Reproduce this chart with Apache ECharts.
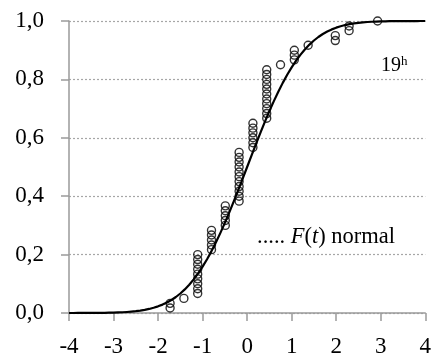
<!DOCTYPE html>
<html>
<head>
<meta charset="utf-8">
<script src="https://cdn.jsdelivr.net/npm/echarts@6/dist/echarts.min.js"></script>
<style>
  html, body { margin: 0; padding: 0; background: #fff; }
  #chart { width: 434px; height: 363px; }
</style>
</head>
<body>
<div id="chart"></div>
<script>
// Axis ticks
const xTicks = [-4, -3, -2, -1, 0, 1, 2, 3, 4];
const yTicks = [0, 0.2, 0.4, 0.6, 0.8, 1.0];

// Observed (standardized) values and their empirical cumulative frequencies, 19h
const obsT = [
  -1.73, -1.73, -1.42,
  -1.11, -1.11, -1.11, -1.11, -1.11, -1.11, -1.11, -1.11, -1.11,
  -0.80, -0.80, -0.80, -0.80, -0.80,
  -0.49, -0.49, -0.49, -0.49, -0.49,
  -0.18, -0.18, -0.18, -0.18, -0.18, -0.18, -0.18, -0.18, -0.18, -0.18, -0.18,
  0.13, 0.13, 0.13, 0.13, 0.13, 0.13,
  0.44, 0.44, 0.44, 0.44, 0.44, 0.44, 0.44, 0.44, 0.44, 0.44, 0.44,
  0.75,
  1.06, 1.06, 1.06,
  1.37,
  1.98, 1.98,
  2.29, 2.29,
  2.93
];
const obsF = [
  0.017, 0.033, 0.050,
  0.067, 0.083, 0.100, 0.117, 0.133, 0.150, 0.167, 0.183, 0.200,
  0.217, 0.233, 0.250, 0.267, 0.283,
  0.300, 0.317, 0.333, 0.350, 0.367,
  0.383, 0.400, 0.417, 0.433, 0.450, 0.467, 0.483, 0.500, 0.517, 0.533, 0.550,
  0.567, 0.583, 0.600, 0.617, 0.633, 0.650,
  0.667, 0.683, 0.700, 0.717, 0.733, 0.750, 0.767, 0.783, 0.800, 0.817, 0.833,
  0.850,
  0.867, 0.883, 0.900,
  0.917,
  0.933, 0.950,
  0.967, 0.983,
  1.000
];

// Normal distribution curve F(t), sampled every 0.1 from -4 to 4
const curveT = [
  -4.0, -3.9, -3.8, -3.7, -3.6, -3.5, -3.4, -3.3, -3.2, -3.1,
  -3.0, -2.9, -2.8, -2.7, -2.6, -2.5, -2.4, -2.3, -2.2, -2.1,
  -2.0, -1.9, -1.8, -1.7, -1.6, -1.5, -1.4, -1.3, -1.2, -1.1,
  -1.0, -0.9, -0.8, -0.7, -0.6, -0.5, -0.4, -0.3, -0.2, -0.1,
  0.0, 0.1, 0.2, 0.3, 0.4, 0.5, 0.6, 0.7, 0.8, 0.9,
  1.0, 1.1, 1.2, 1.3, 1.4, 1.5, 1.6, 1.7, 1.8, 1.9,
  2.0, 2.1, 2.2, 2.3, 2.4, 2.5, 2.6, 2.7, 2.8, 2.9,
  3.0, 3.1, 3.2, 3.3, 3.4, 3.5, 3.6, 3.7, 3.8, 3.9,
  4.0
];
const curveF = [
  0.0000, 0.0000, 0.0001, 0.0001, 0.0002, 0.0002, 0.0003, 0.0005, 0.0007, 0.0010,
  0.0013, 0.0019, 0.0026, 0.0035, 0.0047, 0.0062, 0.0082, 0.0107, 0.0139, 0.0179,
  0.0228, 0.0287, 0.0359, 0.0446, 0.0548, 0.0668, 0.0808, 0.0968, 0.1151, 0.1357,
  0.1587, 0.1841, 0.2119, 0.2420, 0.2743, 0.3085, 0.3446, 0.3821, 0.4207, 0.4602,
  0.5000, 0.5398, 0.5793, 0.6179, 0.6554, 0.6915, 0.7257, 0.7580, 0.7881, 0.8159,
  0.8413, 0.8643, 0.8849, 0.9032, 0.9192, 0.9332, 0.9452, 0.9554, 0.9641, 0.9713,
  0.9772, 0.9821, 0.9861, 0.9893, 0.9918, 0.9938, 0.9953, 0.9965, 0.9974, 0.9981,
  0.9987, 0.9990, 0.9993, 0.9995, 0.9997, 0.9998, 0.9998, 0.9999, 0.9999, 1.0000,
  1.0000
];

const serif = '"Liberation Serif", "Times New Roman", serif';

const chart = echarts.init(document.getElementById('chart'), null, { renderer: 'canvas' });

chart.setOption({
  animation: false,
  backgroundColor: '#ffffff',
  grid: { left: 69, right: 7, top: 21, bottom: 50 },
  xAxis: {
    type: 'value',
    min: xTicks[0],
    max: xTicks[xTicks.length - 1],
    interval: 1,
    axisLine: { show: true, onZero: false, lineStyle: { color: '#9a9a9a', width: 1.5 } },
    axisTick: { show: true, length: 8, lineStyle: { color: '#9a9a9a', width: 1.5 } },
    axisLabel: {
      margin: 22,
      color: '#000',
      fontFamily: serif,
      fontSize: 23,
      formatter: v => String(v)
    },
    splitLine: { show: false }
  },
  yAxis: {
    type: 'value',
    min: yTicks[0],
    max: yTicks[yTicks.length - 1],
    interval: 0.2,
    axisLine: { show: true, onZero: false, lineStyle: { color: '#9a9a9a', width: 1.5 } },
    axisTick: { show: true, length: 8, lineStyle: { color: '#9a9a9a', width: 1.5 } },
    axisLabel: {
      margin: 25,
      color: '#000',
      fontFamily: serif,
      fontSize: 23,
      formatter: v => v.toFixed(1).replace('.', ',')
    },
    splitLine: {
      show: true,
      lineStyle: { color: '#a6a6a6', type: [2, 2], width: 1.2 }
    }
  },
  series: [
    {
      type: 'scatter',
      data: obsT.map((t, i) => [t, obsF[i]]),
      symbol: 'circle',
      symbolSize: 8,
      clip: false,
      itemStyle: { color: 'rgba(255,255,255,0)', borderColor: '#000', borderWidth: 1.4 },
      z: 2
    },
    {
      type: 'line',
      data: curveT.map((t, i) => [t, curveF[i]]),
      smooth: false,
      showSymbol: false,
      clip: false,
      lineStyle: { color: '#000', width: 2.2, join: 'round' },
      z: 3
    }
  ],
  graphic: [
    {
      type: 'text',
      left: 381,
      top: 55,
      style: {
        text: '{n|19}{s|h}',
        rich: {
          n: { fontFamily: serif, fontSize: 20, fill: '#000', verticalAlign: 'bottom' },
          s: { fontFamily: serif, fontSize: 13, fill: '#000', verticalAlign: 'bottom', padding: [0, 0, 8, 0] }
        }
      }
    },
    {
      type: 'text',
      left: 257,
      top: 226,
      style: {
        text: '{r|..... }{i|F}{r|(}{i|t}{r|) normal}',
        rich: {
          r: { fontFamily: serif, fontSize: 22.5, fill: '#000' },
          i: { fontFamily: serif, fontSize: 22.5, fontStyle: 'italic', fill: '#000' }
        }
      }
    }
  ]
});
</script>
</body>
</html>
